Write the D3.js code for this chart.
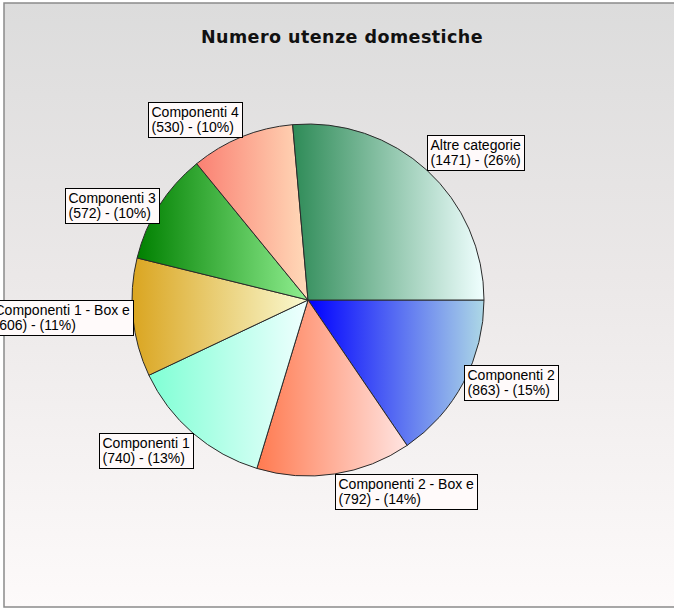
<!DOCTYPE html>
<html>
<head>
<meta charset="utf-8">
<script src="https://cdn.jsdelivr.net/npm/d3@7"></script>
<style>
  body { margin: 0; background: #fff; overflow: hidden; }
</style>
</head>
<body>
<div id="chart"></div>
<script>
const width = 674, height = 610;

// data, in drawing order (starting at 3 o'clock, clockwise)
const categories = ["Componenti 2", "Componenti 2 - Box e", "Componenti 1",
    "Componenti 1 - Box e", "Componenti 3", "Componenti 4", "Altre categorie"];
const values = [863, 792, 740, 606, 572, 530, 1471];
const fromColors = ["#0000ff", "#ff7a50", "#7fffd4", "#daa520", "#008000", "#fa8072", "#2e8b57"];
const toColors = ["#add8e6", "#ffe4e1", "#f0ffff", "#fafad2", "#90ee90", "#ffdab9", "#f0ffff"];
const title = "Numero utenze domestiche";

const cx = 308, cy = 300, radius = 176;

var svg = d3.select("#chart")
    .append("svg")
    .attr("width", width)
    .attr("height", height);

var defs = svg.append("defs");

var bg = defs.append("linearGradient")
    .attr("id", "bg")
    .attr("x1", 0).attr("y1", 0).attr("x2", 0).attr("y2", 1);
bg.append("stop").attr("offset", "0%").attr("stop-color", "#dcdcdc");
bg.append("stop").attr("offset", "45%").attr("stop-color", "#ebe8e8");
bg.append("stop").attr("offset", "100%").attr("stop-color", "#fdfafa");

// frame (right side runs past the window)
svg.append("rect")
    .attr("x", 4)
    .attr("y", 3)
    .attr("width", 680)
    .attr("height", 604)
    .style("fill", "url(#bg)")
    .style("stroke", "#8a8a8a")
    .style("stroke-width", 1.5);

svg.append("text")
    .attr("x", 342)
    .attr("y", 43)
    .attr("text-anchor", "middle")
    .style("font-family", "'DejaVu Sans', Verdana, sans-serif")
    .style("font-weight", "bold")
    .style("font-size", "17.5px")
    .style("letter-spacing", "0.45px")
    .style("fill", "#111")
    .text(title);

const total = d3.sum(values);
const data = categories.map((c, i) => ({name: c, value: values[i], i: i}));

// one horizontal gradient per slice (object bounding box)
data.forEach(d => {
    var g = defs.append("linearGradient")
        .attr("id", "slice" + d.i)
        .attr("x1", 0).attr("y1", 0).attr("x2", 1).attr("y2", 0);
    g.append("stop").attr("offset", "0%").attr("stop-color", fromColors[d.i]);
    g.append("stop").attr("offset", "100%").attr("stop-color", toColors[d.i]);
});

var pie = d3.pie()
    .sort(null)
    .value(d => d.value)
    .startAngle(Math.PI / 2)
    .endAngle(Math.PI / 2 + 2 * Math.PI);

var arc = d3.arc()
    .innerRadius(0)
    .outerRadius(radius);

var arcs = pie(data);

var pieG = svg.append("g")
    .attr("transform", `translate(${cx},${cy})`);

pieG.selectAll("path")
    .data(arcs)
    .enter().append("path")
    .attr("d", arc)
    .style("fill", d => `url(#slice${d.data.i})`)
    .style("stroke", "#2a2a2a")
    .style("stroke-width", 1);

// labels
var labelG = svg.append("g");
const fontSize = 14, lineH = 15, pad = 3;

arcs.forEach(d => {
    const mid = (d.startAngle + d.endAngle) / 2;
    const s = Math.sin(mid), c = Math.cos(mid);
    const ax = cx + radius * s, ay = cy - radius * c;
    const lines = [d.data.name,
        `(${d.data.value}) - (${Math.round(d.data.value / total * 100)}%)`];

    var g = labelG.append("g");
    var box = g.append("rect");
    var texts = g.selectAll("text")
        .data(lines)
        .enter().append("text")
        .style("font-family", "'Liberation Sans', Arial, sans-serif")
        .style("font-size", fontSize + "px")
        .style("fill", "#000")
        .text(t => t);

    const tw = d3.max(texts.nodes(), n => n.getComputedTextLength());
    const bw = Math.round(tw + 2 * pad + 1), bh = 35;

    var bx = s >= 0 ? ax : ax - bw;
    var by;
    if (Math.abs(s) > Math.abs(c)) by = ay - bh / 2;
    else if (c > 0) by = ay - bh;
    else by = ay;
    bx = Math.round(bx) + 0.5;
    by = Math.round(by) + 0.5;

    box.attr("x", bx).attr("y", by)
        .attr("width", bw).attr("height", bh)
        .style("fill", "#fffafa")
        .style("stroke", "#000")
        .style("stroke-width", 1);

    texts.attr("x", bx + pad)
        .attr("y", (t, j) => by + 14 + j * lineH);
});
</script>
</body>
</html>
